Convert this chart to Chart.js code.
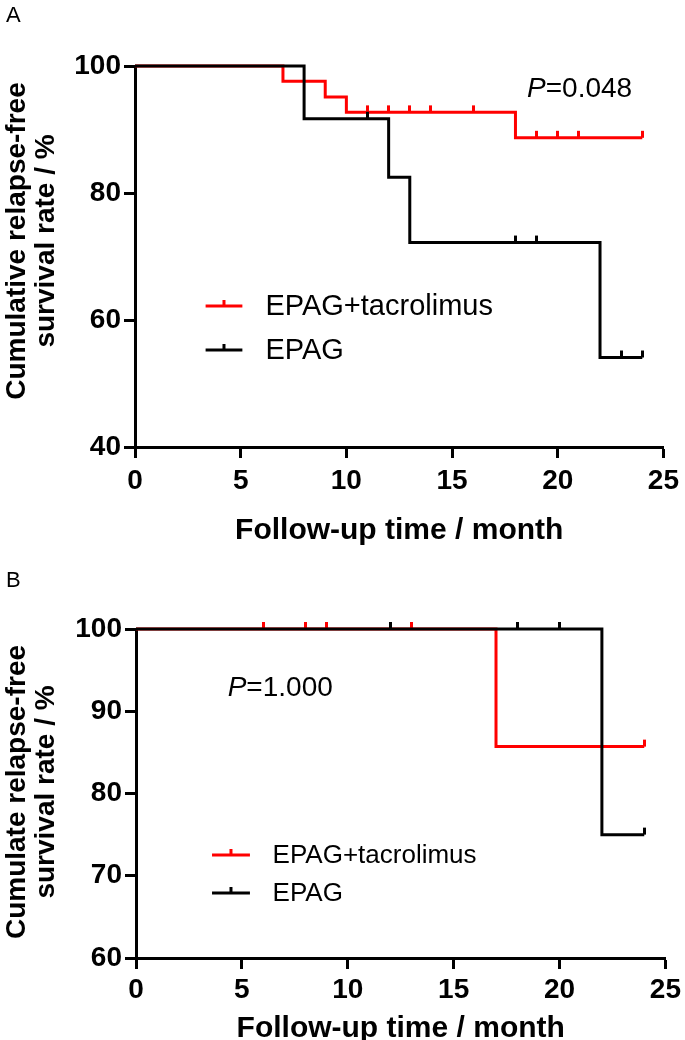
<!DOCTYPE html>
<html>
<head>
<meta charset="utf-8">
<script src="https://cdn.jsdelivr.net/npm/chart.js@4.4.1/dist/chart.umd.min.js"></script>
<style>
  body { margin: 0; background: #fff; width: 685px; height: 1040px; overflow: hidden; position: relative; font-family: Arial, 'Liberation Sans', sans-serif; }
  canvas { position: absolute; left: 0; }
  .tag { position: absolute; left: 6px; font-size: 22px; line-height: 22px; color: #000; }
</style>
</head>
<body>
<canvas id="chartA" width="685" height="550" style="top:0"></canvas>
<canvas id="chartB" width="685" height="500" style="top:550px"></canvas>
<div class="tag" style="top:4px">A</div>
<div class="tag" style="top:569px">B</div>
<script>
const FAMILY = "Arial, 'Liberation Sans', sans-serif";
const groups = ['EPAG+tacrolimus', 'EPAG'];
const groupColors = ['#ff0000', '#000000'];
const xTicks = [0, 5, 10, 15, 20, 25];

// panel A
const monthsTacA = [0, 7, 9, 10, 18, 24];
const survTacA = [100, 97.6, 95.1, 92.7, 88.7, 88.7];
const censorTacA = [11, 12, 13, 14, 16, 19, 20, 21, 24];
const monthsEpagA = [0, 8, 12, 13, 22, 24];
const survEpagA = [100, 91.7, 82.5, 72.2, 54.1, 54.1];
const censorEpagA = [11, 18, 19, 23, 24];
const yTicksA = [40, 60, 80, 100];

// panel B
const monthsTacB = [0, 17, 24];
const survTacB = [100, 85.7, 85.7];
const censorTacB = [6, 8, 9, 13, 24];
const monthsEpagB = [0, 22, 24];
const survEpagB = [100, 75, 75];
const censorEpagB = [12, 18, 20, 24];
const yTicksB = [60, 70, 80, 90, 100];

// survival value at time t (step function)
function survAt(months, surv, t) {
    let v = surv[0];
    for (let i = 0; i < months.length; i++) {
        if (months[i] <= t) v = surv[i];
    }
    return v;
}

// small upward tick used as the censor mark
function tickImg(color) {
    const c = document.createElement('canvas');
    c.width = 3;
    c.height = 16;
    const g = c.getContext('2d');
    g.fillStyle = color;
    g.fillRect(0, 1, 3, 7);
    return c;
}

const kmExtras = {
    id: 'kmExtras',
    afterDraw(chart, args, o) {
        const { ctx } = chart;
        const x = chart.scales.x, y = chart.scales.y;
        ctx.save();
        ctx.fillStyle = '#000';

        // y axis title, two lines
        ctx.font = 'bold 28px ' + FAMILY;
        ctx.textAlign = 'center';
        ctx.textBaseline = 'middle';
        o.yTitle.forEach((line, i) => {
            ctx.save();
            ctx.translate(o.yTitleX[i], o.yTitleY);
            ctx.rotate(-Math.PI / 2);
            ctx.fillText(line, 0, 0);
            ctx.restore();
        });

        // legend
        const x0 = x.getPixelForValue(o.legend.x0);
        const x1 = x.getPixelForValue(o.legend.x1);
        const xt = x.getPixelForValue(o.legend.xt);
        ctx.textAlign = 'left';
        ctx.font = o.legend.size + 'px ' + FAMILY;
        groups.forEach((g, i) => {
            const ly = Math.round(y.getPixelForValue(o.legend.y[i]));
            ctx.fillStyle = groupColors[i];
            ctx.fillRect(x0, ly - 1.5, x1 - x0, 3);
            ctx.fillRect((x0 + x1) / 2 - 1.5, ly - 6, 3, 6);
            ctx.fillStyle = '#000';
            ctx.fillText(g, xt, ly + 1);
        });

        // P value
        const px = x.getPixelForValue(o.p.x);
        const py = y.getPixelForValue(o.p.y);
        ctx.font = 'italic 28px ' + FAMILY;
        ctx.fillText('P', px, py);
        const w = ctx.measureText('P').width;
        ctx.font = '28px ' + FAMILY;
        ctx.fillText('=' + o.p.text, px + w, py);
        ctx.restore();
    }
};

function kmChart(id, d) {
    const lineSet = (label, months, surv, color) => ({
        label: label,
        data: months.map((m, i) => ({ x: m, y: surv[i] })),
        borderColor: color,
        borderWidth: 3,
        stepped: true,
        pointRadius: 0,
        fill: false,
        clip: false
    });
    const censorSet = (label, months, surv, censor, color) => ({
        label: label + ' censored',
        data: censor.map(t => ({ x: t, y: survAt(months, surv, t) })),
        showLine: false,
        pointStyle: tickImg(color),
        pointRadius: 4,
        clip: false
    });

    // first dataset is drawn on top
    const datasets = [
        censorSet(groups[1], d.mEpag, d.sEpag, d.cEpag, groupColors[1]),
        lineSet(groups[1], d.mEpag, d.sEpag, groupColors[1]),
        censorSet(groups[0], d.mTac, d.sTac, d.cTac, groupColors[0]),
        lineSet(groups[0], d.mTac, d.sTac, groupColors[0])
    ];

    return new Chart(document.getElementById(id).getContext('2d'), {
        type: 'line',
        data: { datasets: datasets },
        options: {
            responsive: false,
            animation: false,
            devicePixelRatio: 1,
            events: [],
            layout: { padding: d.padding },
            plugins: {
                legend: { display: false },
                tooltip: { enabled: false },
                kmExtras: d.extras
            },
            scales: {
                x: {
                    type: 'linear',
                    min: 0,
                    max: 25,
                    afterBuildTicks: s => { s.ticks = xTicks.map(v => ({ value: v })); },
                    afterFit: s => { s.height = d.xAxisH; },
                    grid: { display: true, drawOnChartArea: false, drawTicks: true, tickLength: 11, tickWidth: 3, tickColor: '#000' },
                    border: { display: true, width: 3, color: '#000' },
                    ticks: { color: '#000', font: { size: 28, weight: 'bold', family: FAMILY }, padding: d.xTickPad, maxRotation: 0, autoSkip: false },
                    title: {
                        display: true,
                        text: 'Follow-up time / month',
                        color: '#000',
                        font: { size: 30, weight: 'bold', family: FAMILY, lineHeight: 1.2 },
                        padding: { top: 0, bottom: d.xTitlePad }
                    }
                },
                y: {
                    type: 'linear',
                    min: d.yTicks[0],
                    max: d.yTicks[d.yTicks.length - 1],
                    afterBuildTicks: s => { s.ticks = d.yTicks.map(v => ({ value: v })); },
                    afterFit: s => { s.width = d.yAxisW; },
                    grid: { display: true, drawOnChartArea: false, drawTicks: true, tickLength: 11, tickWidth: 3, tickColor: '#000' },
                    border: { display: true, width: 3, color: '#000' },
                    ticks: { color: '#000', font: { size: 28, weight: 'bold', family: FAMILY }, padding: 3 }
                }
            }
        },
        plugins: [kmExtras]
    });
}

kmChart('chartA', {
    mTac: monthsTacA, sTac: survTacA, cTac: censorTacA,
    mEpag: monthsEpagA, sEpag: survEpagA, cEpag: censorEpagA,
    yTicks: yTicksA,
    padding: { left: 0, right: 18, top: 66, bottom: 0 },
    yAxisW: 135,
    xAxisH: 103,
    xTickPad: 6,
    xTitlePad: 1,
    extras: {
        yTitle: ['Cumulative relapse-free', 'survival rate / %'],
        yTitleX: [17, 46],
        yTitleY: 241,
        legend: { x0: 3.34, x1: 5.08, xt: 6.17, y: [62.2, 55.25], size: 29 },
        p: { x: 18.55, y: 96.4, text: '0.048' }
    }
});

kmChart('chartB', {
    mTac: monthsTacB, sTac: survTacB, cTac: censorTacB,
    mEpag: monthsEpagB, sEpag: survEpagB, cEpag: censorEpagB,
    yTicks: yTicksB,
    padding: { left: 0, right: 17, top: 79, bottom: 0 },
    yAxisW: 136,
    xAxisH: 92,
    xTickPad: 4,
    xTitlePad: 3,
    extras: {
        yTitle: ['Cumulate relapse-free', 'survival rate / %'],
        yTitleX: [17, 46],
        yTitleY: 242,
        legend: { x0: 3.59, x1: 5.38, xt: 6.45, y: [72.5, 67.9], size: 26 },
        p: { x: 4.33, y: 92.8, text: '1.000' }
    }
});
</script>
</body>
</html>
